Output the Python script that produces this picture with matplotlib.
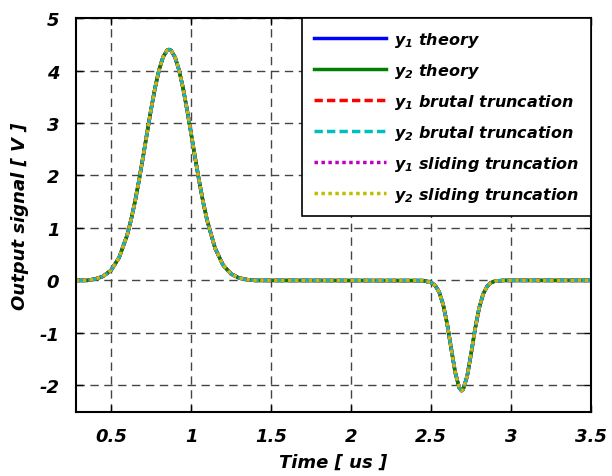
import matplotlib
matplotlib.use("Agg")
import matplotlib.pyplot as plt

# time axis [us] and output values [V]
t = [0.28, 0.35, 0.40, 0.45, 0.50, 0.55, 0.60, 0.625, 0.65, 0.675, 0.70,
     0.725, 0.75, 0.775, 0.80, 0.825, 0.85, 0.862, 0.875, 0.90, 0.925, 0.95,
     0.975, 1.00, 1.025, 1.05, 1.075, 1.10, 1.15, 1.20, 1.25, 1.30, 1.35,
     1.40, 2.45, 2.50, 2.525, 2.55, 2.575, 2.60, 2.625, 2.65, 2.675, 2.69,
     2.70, 2.725, 2.75, 2.775, 2.80, 2.825, 2.85, 2.875, 2.90, 2.95, 3.50]
y_out = [0.0, 0.0, 0.027, 0.078, 0.195, 0.435, 0.860, 1.157, 1.511, 1.916, 2.357,
         2.816, 3.265, 3.675, 4.015, 4.259, 4.385, 4.40, 4.382, 4.251, 4.004, 3.660,
         3.247, 2.798, 2.339, 1.899, 1.496, 1.144, 0.612, 0.291, 0.123, 0.046, 0.015,
         0.0, -0.003, -0.040, -0.095, -0.221, -0.460, -0.829, -1.293, -1.748, -2.046, -2.10,
         -2.076, -1.824, -1.389, -0.916, -0.524, -0.259, -0.111, -0.041, -0.013, 0.0, 0.0]

labels = ["$y_1$ theory", "$y_2$ theory",
          "$y_1$ brutal truncation", "$y_2$ brutal truncation",
          "$y_1$ sliding truncation", "$y_2$ sliding truncation"]
colors = ["#0000ff", "#008000", "#ff0000", "#00bfbf", "#bf00bf", "#bfbf00"]
styles = ["-", "-", (0, (2.4, 1.2)), (0, (2.4, 1.2)), (0, (1, 1)), (0, (1, 1))]

fnt = "DejaVu Sans"
plt.rcParams["font.family"] = fnt
plt.rcParams["font.weight"] = "bold"
plt.rcParams["font.style"] = "italic"
plt.rcParams["axes.unicode_minus"] = False
plt.rcParams["mathtext.fontset"] = "custom"
plt.rcParams["mathtext.it"] = fnt + ":italic:bold"
plt.rcParams["mathtext.rm"] = fnt + ":italic:bold"

fig = plt.figure(figsize=(6.12, 4.77), dpi=100)
ax = fig.add_axes([0.124, 0.135, 0.842, 0.825])

for lab, c, ls in zip(labels, colors, styles):
    ax.plot(t, y_out, color=c, linestyle=ls, linewidth=2.5, label=lab)

ax.set_xlim(0.28, 3.5)
ax.set_ylim(-2.5, 5)
ax.set_xticks([0.5, 1, 1.5, 2, 2.5, 3, 3.5])
ax.set_xticklabels(["0.5", "1", "1.5", "2", "2.5", "3", "3.5"])
ax.set_yticks([-2, -1, 0, 1, 2, 3, 4, 5])
ax.grid(True, color="#444444", linestyle=(0, (6, 4)), linewidth=1)
ax.tick_params(direction="in", length=5, width=1, top=True, right=True,
               labelsize=13, pad=11)
ax.tick_params(axis="y", pad=12)
for s in ax.spines.values():
    s.set_linewidth(1.5)

ax.set_xlabel("Time [ us ]", fontsize=13, fontweight="bold", fontstyle="italic",
              labelpad=6)
ax.set_ylabel("Output signal [ V ]", fontsize=13, fontweight="bold", fontstyle="italic",
              labelpad=7)

leg = ax.legend(loc="upper right", borderaxespad=0, fontsize=11.5, handlelength=4.5,
                labelspacing=0.75, handletextpad=0.5, borderpad=0.75,
                fancybox=False, edgecolor="black", framealpha=1)
leg.get_frame().set_linewidth(1.2)

fig.savefig("out.png", dpi=100)
